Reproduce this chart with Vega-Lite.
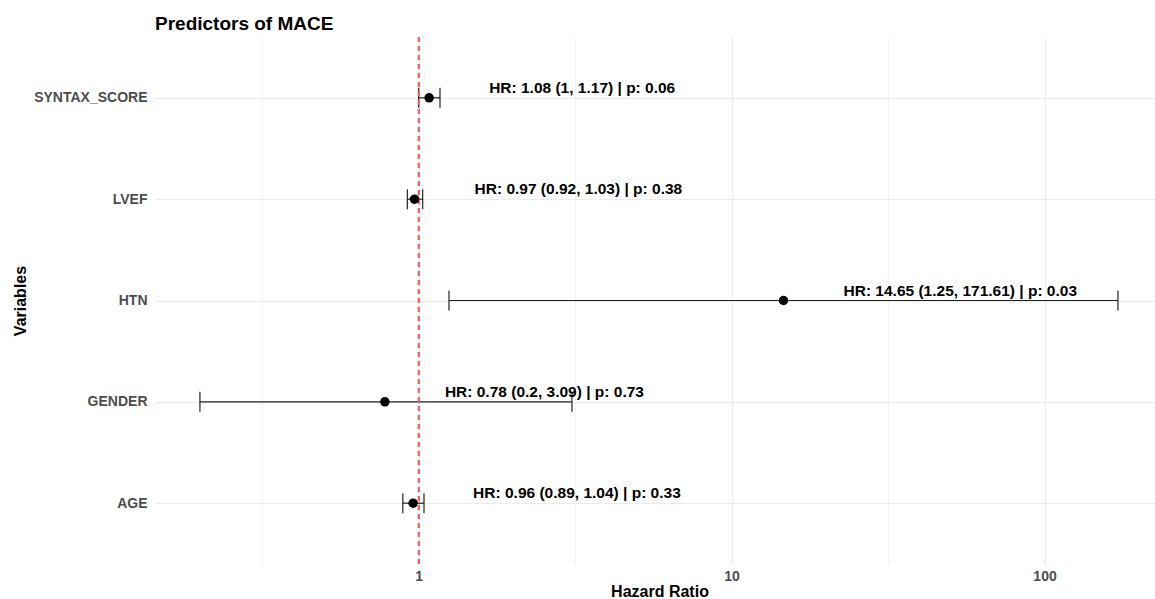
{
  "$schema": "https://vega.github.io/schema/vega-lite/v6.json",
  "autosize": {"type": "none"},
  "padding": {"left": 155, "top": 37, "right": 0, "bottom": 35},
  "width": 1000,
  "height": 527,
  "background": "white",
  "title": {
    "text": "Predictors of MACE",
    "anchor": "start",
    "frame": "group",
    "font": "Liberation Sans",
    "fontSize": 19,
    "fontWeight": "bold",
    "color": "#000000",
    "baseline": "alphabetic",
    "offset": -13
  },
  "config": {
    "view": {"stroke": null},
    "font": "Liberation Sans"
  },
  "data": {
    "values": [
      {"variable": "SYNTAX_SCORE", "hr": 1.08, "lower": 1.0, "upper": 1.17, "p": 0.06, "label": "HR: 1.08 (1, 1.17) | p: 0.06"},
      {"variable": "LVEF", "hr": 0.97, "lower": 0.92, "upper": 1.03, "p": 0.38, "label": "HR: 0.97 (0.92, 1.03) | p: 0.38"},
      {"variable": "HTN", "hr": 14.65, "lower": 1.25, "upper": 171.61, "p": 0.03, "label": "HR: 14.65 (1.25, 171.61) | p: 0.03"},
      {"variable": "GENDER", "hr": 0.78, "lower": 0.2, "upper": 3.09, "p": 0.73, "label": "HR: 0.78 (0.2, 3.09) | p: 0.73"},
      {"variable": "AGE", "hr": 0.96, "lower": 0.89, "upper": 1.04, "p": 0.33, "label": "HR: 0.96 (0.89, 1.04) | p: 0.33"}
    ]
  },
  "layer": [
    {
      "mark": {"type": "rule", "color": "#222222", "strokeWidth": 1.2},
      "encoding": {
        "y": {
          "field": "variable",
          "type": "nominal",
          "sort": ["SYNTAX_SCORE", "LVEF", "HTN", "GENDER", "AGE"],
          "scale": {"type": "point", "padding": 0.6},
          "axis": {
            "title": "Variables",
            "titleFont": "Liberation Sans",
            "titleFontSize": 16,
            "titleFontWeight": "bold",
            "titleColor": "#000000",
            "titleBaseline": "alphabetic",
            "titleX": -130,
            "labelFont": "Liberation Sans",
            "labelFontSize": 14,
            "labelFontWeight": "bold",
            "labelColor": "#4D4D4D",
            "labelPadding": 8,
            "ticks": false,
            "domain": false,
            "grid": true,
            "gridColor": "#EBEBEB",
            "gridWidth": 1
          }
        },
        "x": {
          "field": "lower",
          "type": "quantitative",
          "scale": {"type": "log", "domain": [0.1437, 225.4], "nice": false, "zero": false},
          "axis": {
            "title": "Hazard Ratio",
            "titleFont": "Liberation Sans",
            "titleFontSize": 16,
            "titleFontWeight": "bold",
            "titleColor": "#000000",
            "titleBaseline": "alphabetic",
            "titleX": 504.5,
            "titleY": 32,
            "values": [0.316228, 1, 3.16228, 10, 31.6228, 100],
            "labelExpr": "(datum.value == 1 || datum.value == 10 || datum.value == 100) ? format(datum.value, 'd') : ''",
            "labelFont": "Liberation Sans",
            "labelFontSize": 14,
            "labelFontWeight": "bold",
            "labelColor": "#4D4D4D",
            "labelPadding": 5,
            "ticks": false,
            "domain": false,
            "grid": true,
            "gridColor": "#EBEBEB",
            "gridWidth": {"condition": {"test": "datum.value == 1 || datum.value == 10 || datum.value == 100", "value": 1}, "value": 0.6}
          }
        },
        "x2": {"field": "upper"}
      }
    },
    {
      "mark": {"type": "tick", "color": "#222222", "thickness": 1.2, "size": 20, "orient": "vertical", "opacity": 1},
      "encoding": {
        "y": {"field": "variable", "type": "nominal", "sort": ["SYNTAX_SCORE", "LVEF", "HTN", "GENDER", "AGE"]},
        "x": {"field": "lower", "type": "quantitative"}
      }
    },
    {
      "mark": {"type": "tick", "color": "#222222", "thickness": 1.2, "size": 20, "orient": "vertical", "opacity": 1},
      "encoding": {
        "y": {"field": "variable", "type": "nominal", "sort": ["SYNTAX_SCORE", "LVEF", "HTN", "GENDER", "AGE"]},
        "x": {"field": "upper", "type": "quantitative"}
      }
    },
    {
      "mark": {"type": "rule", "color": "#FF5A5A", "strokeWidth": 1.5, "strokeDash": [5, 4], "opacity": 0.9},
      "encoding": {"x": {"datum": 1}}
    },
    {
      "mark": {"type": "point", "filled": true, "color": "#000000", "size": 90, "opacity": 1},
      "encoding": {
        "y": {"field": "variable", "type": "nominal", "sort": ["SYNTAX_SCORE", "LVEF", "HTN", "GENDER", "AGE"]},
        "x": {"field": "hr", "type": "quantitative"}
      }
    },
    {
      "mark": {"type": "text", "align": "left", "baseline": "middle", "dx": 60, "dy": -10, "font": "Liberation Sans", "fontSize": 15.5, "fontWeight": "bold", "color": "#000000"},
      "encoding": {
        "y": {"field": "variable", "type": "nominal", "sort": ["SYNTAX_SCORE", "LVEF", "HTN", "GENDER", "AGE"]},
        "x": {"field": "hr", "type": "quantitative"},
        "text": {"field": "label"}
      }
    }
  ]
}
